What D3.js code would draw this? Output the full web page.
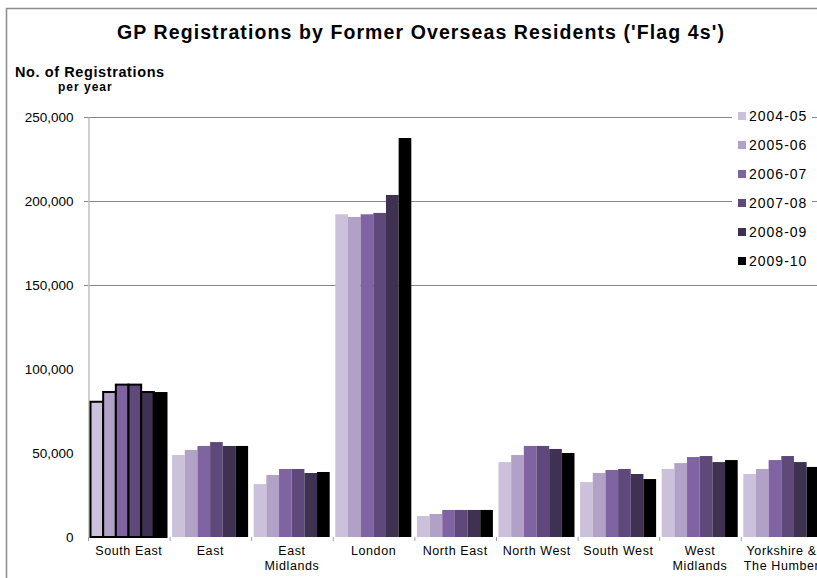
<!DOCTYPE html>
<html>
<head>
<meta charset="utf-8">
<script src="https://cdn.jsdelivr.net/npm/d3@7"></script>
<style>
body { margin: 0; background: #fff; }
text { font-family: "Liberation Sans", Arial, sans-serif; }
</style>
</head>
<body>
<div class="chart"></div>
<script>
var regions = ["South East", "East", "East Midlands", "London", "North East",
    "North West", "South West", "West Midlands", "Yorkshire & The Humber"];
var regionLines = [["South East"], ["East"], ["East", "Midlands"], ["London"], ["North East"],
    ["North West"], ["South West"], ["West", "Midlands"], ["Yorkshire &", "The Humber"]];
var years = ["2004-05", "2005-06", "2006-07", "2007-08", "2008-09", "2009-10"];
var colors = ["#ccc1da", "#b2a1c7", "#8064a2", "#5f497a", "#3f3151", "#000000"];

// registrations per year, one array per region (2004-05 .. 2009-10)
var southEast = [80500, 86300, 90700, 90700, 86300, 85700];
var east = [48800, 51800, 54200, 56500, 54200, 54200];
var eastMidlands = [31500, 36900, 40500, 40500, 38100, 38700];
var london = [192100, 190500, 192100, 192900, 203600, 237500];
var northEast = [12500, 13700, 16100, 16100, 16100, 16100];
var northWest = [44600, 48800, 54200, 54200, 52400, 50000];
var southWest = [32700, 38100, 39900, 40500, 37500, 34500];
var westMidlands = [40500, 44000, 47600, 48200, 44600, 45800];
var yorkshire = [37500, 40500, 45800, 48200, 44600, 41700];

var yTicks = [0, 50000, 100000, 150000, 200000, 250000];
var gridTicks = [150000, 200000, 250000];

var values = [southEast, east, eastMidlands, london, northEast, northWest, southWest, westMidlands, yorkshire];

var canvas = d3.select(".chart").append("svg")
    .attr("width", 817)
    .attr("height", 578);

// outer chart border
canvas.append("rect")
    .attr("x", 6.5).attr("y", 8.5)
    .attr("width", 830).attr("height", 600)
    .attr("fill", "none")
    .attr("stroke", "#8c8c8c")
    .attr("stroke-width", 1.5);

var y = d3.scaleLinear().domain([0, 250000]).range([537, 117]);
var x0 = d3.scaleBand().domain(regions).range([88, 822.4]);
var x1 = d3.scaleBand().domain(years).range([2.5, 78.5]);
var color = d3.scaleOrdinal().domain(years).range(colors);

// gridlines
canvas.selectAll("line.grid")
    .data(gridTicks)
    .enter()
    .append("line")
    .attr("class", "grid")
    .attr("x1", 84).attr("x2", 817)
    .attr("y1", function (d) { return Math.round(y(d)) + 0.5; })
    .attr("y2", function (d) { return Math.round(y(d)) + 0.5; })
    .attr("stroke", "#868686");

// y axis
var yAxis = canvas.append("g")
    .attr("transform", "translate(88.5,0)")
    .call(d3.axisLeft(y).tickValues(yTicks).tickSize(0).tickPadding(15).tickFormat(d3.format(",")));
yAxis.select(".domain").attr("stroke", "#c0c0c0").attr("stroke-width", 1.5);
yAxis.selectAll("text")
    .attr("font-size", 13.5)
    .attr("fill", "#000")
    .style("font-family", "Liberation Sans, Arial, sans-serif");

// bars
var groups = canvas.selectAll("g.region")
    .data(regions)
    .enter()
    .append("g")
    .attr("class", "region")
    .attr("transform", function (d) { return "translate(" + x0(d) + ",0)"; });

groups.selectAll("rect")
    .data(function (d, i) {
        return years.map(function (yr, j) { return {region: d, year: yr, value: values[i][j]}; });
    })
    .enter()
    .append("rect")
    .attr("x", function (d) { return x1(d.year); })
    .attr("width", x1.bandwidth())
    .attr("y", function (d) { return y(d.value); })
    .attr("height", function (d) { return y(0) - y(d.value); })
    .attr("fill", function (d) { return color(d.year); })
    .attr("stroke", function (d) { return d.region == "South East" ? "#000" : "none"; })
    .attr("stroke-width", 2);

// x tick marks at band boundaries
var boundaries = regions.map(function (d) { return x0(d); });
canvas.selectAll("line.xtick")
    .data(boundaries)
    .enter()
    .append("line")
    .attr("class", "xtick")
    .attr("x1", function (d) { return d + 0.5; })
    .attr("x2", function (d) { return d + 0.5; })
    .attr("y1", 537).attr("y2", 541)
    .attr("stroke", "#a0a0a0");

// x labels
var labels = canvas.selectAll("text.xlabel")
    .data(regions)
    .enter()
    .append("text")
    .attr("class", "xlabel")
    .attr("text-anchor", "middle")
    .attr("font-size", 12.5)
    .attr("letter-spacing", 0.6)
    .attr("y", 555);
labels.selectAll("tspan")
    .data(function (d, i) { return regionLines[i]; })
    .enter()
    .append("tspan")
    .attr("x", function () { var r = d3.select(this.parentNode).datum(); return x0(r) + x0.bandwidth() / 2; })
    .attr("dy", function (d, i) { return i == 0 ? 0 : 14.5; })
    .text(function (d) { return d; });

// legend
var legend = canvas.append("g").attr("transform", "translate(732,100)");
legend.append("rect")
    .attr("width", 80).attr("height", 175)
    .attr("fill", "#fff");
var items = legend.selectAll("g")
    .data(years)
    .enter()
    .append("g")
    .attr("transform", function (d, i) { return "translate(0," + (i * 29 + 16) + ")"; });
items.append("rect")
    .attr("x", 6).attr("y", -4)
    .attr("width", 8).attr("height", 8)
    .attr("fill", function (d) { return color(d); });
items.append("text")
    .attr("x", 17).attr("y", 5)
    .attr("font-size", 14)
    .attr("letter-spacing", 1)
    .text(function (d) { return d; });

// titles
canvas.append("text")
    .attr("x", 421).attr("y", 39)
    .attr("text-anchor", "middle")
    .attr("font-size", 19.5)
    .attr("font-weight", "bold")
    .attr("letter-spacing", 1.1)
    .text("GP Registrations by Former Overseas Residents ('Flag 4s')");
canvas.append("text")
    .attr("x", 15).attr("y", 77)
    .attr("font-size", 14.5)
    .attr("font-weight", "bold")
    .attr("letter-spacing", 0.6)
    .text("No. of Registrations");
canvas.append("text")
    .attr("x", 58).attr("y", 91)
    .attr("font-size", 12)
    .attr("font-weight", "bold")
    .attr("letter-spacing", 1)
    .text("per year");
</script>
</body>
</html>
